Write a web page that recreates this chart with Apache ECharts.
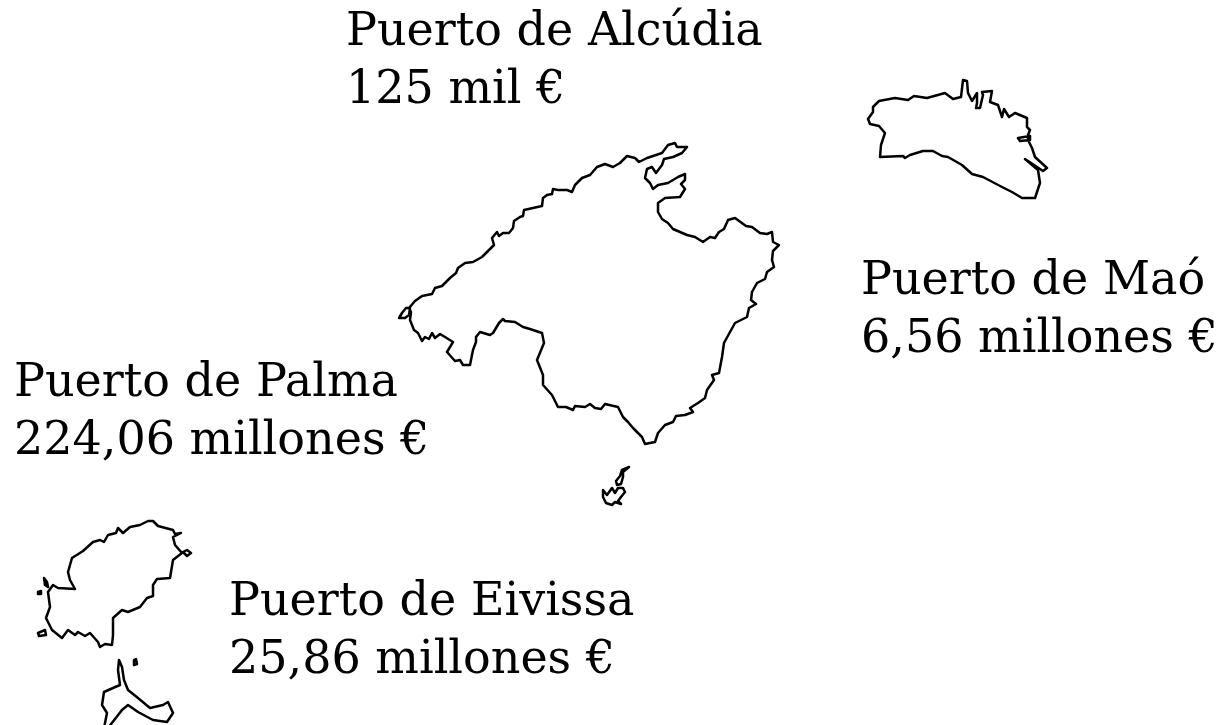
<!DOCTYPE html>
<html>
<head>
<meta charset="utf-8">
<title>Puertos de Baleares</title>
<style>
  html, body { margin: 0; background: #fff; }
  #chart { width: 1225px; height: 725px; }
</style>
<script src="https://cdn.jsdelivr.net/npm/echarts@6/dist/echarts.min.js"></script>
</head>
<body>
<div id="chart"></div>
<script>
// ports
const portNames = ['Puerto de Alcúdia', 'Puerto de Maó', 'Puerto de Palma', 'Puerto de Eivissa']
const portValues = ['125 mil €', '6,56 millones €', '224,06 millones €', '25,86 millones €']
const portCoords = [[346, 62], [861, 311], [14, 413], [229, 632]]

// island outlines, traced in map units
const mallorca = [[409, 308], [415, 301], [422, 296], [432, 294], [435, 288], [442, 286], [450, 278], [456, 273], [458, 268], [465, 263], [473, 262], [482, 257], [490, 249], [494, 245], [492, 238], [497, 232], [499, 236], [503, 233], [509, 233], [513, 228], [514, 221], [520, 217], [523, 216], [524, 210], [533, 208], [542, 206], [543, 198], [547, 195], [552, 194], [553, 189], [558, 190], [567, 190], [572, 192], [575, 185], [582, 178], [590, 175], [597, 167], [605, 164], [613, 167], [620, 163], [627, 156], [635, 158], [639, 162], [647, 158], [662, 153], [668, 145], [675, 143], [677, 147], [687, 147], [682, 153], [673, 157], [664, 159], [662, 165], [656, 173], [652, 167], [647, 169], [645, 178], [650, 183], [653, 189], [658, 185], [668, 183], [678, 177], [685, 174], [685, 180], [681, 184], [685, 189], [680, 197], [665, 198], [658, 203], [658, 212], [662, 219], [668, 223], [673, 229], [687, 235], [695, 237], [703, 242], [710, 237], [715, 238], [719, 232], [724, 229], [728, 220], [735, 218], [746, 226], [752, 227], [760, 233], [767, 234], [772, 232], [773, 242], [779, 245], [773, 251], [772, 260], [774, 267], [767, 272], [765, 279], [757, 283], [752, 292], [751, 300], [756, 304], [749, 308], [747, 317], [735, 323], [730, 332], [724, 343], [722, 357], [719, 373], [712, 375], [714, 380], [707, 390], [705, 398], [698, 403], [690, 408], [693, 412], [685, 415], [676, 416], [673, 422], [665, 425], [658, 433], [655, 442], [645, 444], [642, 437], [633, 428], [628, 422], [623, 417], [618, 407], [605, 404], [601, 409], [595, 408], [590, 404], [585, 407], [575, 406], [573, 410], [566, 407], [558, 407], [552, 395], [543, 385], [543, 375], [537, 360], [544, 343], [542, 333], [530, 329], [523, 327], [515, 322], [505, 321], [503, 319], [499, 323], [493, 333], [490, 335], [480, 332], [476, 337], [476, 342], [473, 350], [470, 365], [463, 365], [460, 360], [455, 361], [447, 352], [453, 342], [445, 337], [440, 334], [435, 338], [432, 333], [429, 339], [425, 337], [422, 341], [418, 333], [414, 330], [410, 320], [411, 312]]
const dragonera = [[406, 308], [410, 308], [409, 315], [405, 318], [399, 318], [402, 313]]
const cabreraNorth = [[629, 467], [622, 470], [620, 476], [616, 481], [617, 485], [621, 484], [623, 477], [623, 472]]
const cabrera = [[603, 490], [607, 495], [612, 488], [615, 493], [618, 488], [623, 488], [625, 492], [621, 497], [618, 501], [621, 504], [615, 502], [612, 505], [606, 503], [603, 497]]
const menorca = [[879, 101], [895, 98], [908, 100], [914, 96], [927, 98], [945, 93], [953, 99], [961, 97], [963, 80], [967, 81], [968, 93], [972, 101], [977, 93], [977, 103], [976, 108], [980, 108], [983, 95], [982, 92], [992, 91], [990, 102], [998, 105], [1002, 117], [1004, 109], [1009, 117], [1015, 113], [1027, 118], [1027, 127], [1030, 130], [1028, 135], [1028, 140], [1032, 148], [1035, 157], [1047, 168], [1043, 171], [1025, 159], [1038, 170], [1040, 183], [1035, 198], [1022, 198], [1012, 192], [1002, 187], [983, 177], [972, 174], [962, 165], [948, 157], [942, 156], [933, 151], [923, 151], [910, 155], [905, 158], [903, 156], [880, 157], [881, 145], [885, 133], [879, 126], [870, 124], [868, 119], [873, 112], [873, 107]]
const menorcaIslet = [[1018, 138], [1030, 136], [1030, 140], [1020, 141]]
const eivissa = [[75, 589], [70, 580], [68, 572], [72, 558], [83, 551], [93, 542], [100, 540], [104, 542], [108, 535], [116, 533], [118, 528], [123, 533], [130, 527], [140, 525], [148, 521], [153, 521], [158, 526], [173, 530], [175, 534], [181, 533], [173, 537], [175, 545], [182, 553], [173, 560], [170, 578], [157, 579], [153, 585], [153, 596], [147, 598], [140, 607], [128, 612], [122, 610], [113, 618], [113, 635], [112, 645], [105, 644], [100, 647], [98, 642], [90, 633], [85, 636], [78, 632], [75, 635], [68, 630], [62, 638], [52, 630], [46, 618], [50, 607], [48, 592], [53, 585], [58, 588]]
const eivissaIslets = [
  [[183, 552], [187, 550], [191, 553], [187, 556]],
  [[44, 578], [47, 582], [48, 587], [45, 585]],
  [[38, 592], [41, 591], [41, 594], [38, 594]],
  [[38, 633], [45, 630], [46, 635], [39, 636]]
]
const formentera = [[119, 660], [122, 667], [124, 680], [128, 690], [138, 698], [150, 708], [163, 705], [168, 702], [173, 713], [167, 722], [153, 720], [138, 712], [128, 705], [122, 710], [108, 728], [104, 728], [107, 713], [102, 705], [104, 692], [113, 688], [120, 685], [118, 670]]
const formenteraIslet = [[134, 660], [136, 659], [137, 664], [134, 665]]

const allIslands = [mallorca, dragonera, cabreraNorth, cabrera, menorca, menorcaIslet, eivissa, ...eivissaIslets, formentera, formenteraIslet]

function closeRing(ring) {
  return [[...ring, ring[0]]]
}

echarts.registerMap('baleares', {
  type: 'FeatureCollection',
  features: [{
    type: 'Feature',
    properties: { name: 'Baleares' },
    geometry: { type: 'MultiPolygon', coordinates: allIslands.map(closeRing) }
  }]
})

const chart = echarts.init(document.getElementById('chart'))
chart.setOption({
  backgroundColor: '#fff',
  animation: false,
  geo: {
    map: 'baleares',
    silent: true,
    roam: false,
    left: 0,
    top: 0,
    right: 0,
    bottom: 0,
    boundingCoords: [[0, 0], [1225, 725]],
    // map units already run top-down, no need for a real projection
    projection: {
      project: (p) => p,
      unproject: (p) => p
    },
    label: { show: false },
    itemStyle: {
      areaColor: 'transparent',
      borderColor: '#000',
      borderWidth: 2.5,
      borderJoin: 'round'
    }
  },
  series: [{
    type: 'scatter',
    coordinateSystem: 'geo',
    symbolSize: 0,
    silent: true,
    data: portNames.map((name, i) => ({ name, value: portCoords[i] })),
    label: {
      show: true,
      position: 'right',
      distance: 0,
      align: 'left',
      color: '#000',
      opacity: 1, // scatter label otherwise picks up the series opacity and goes grey
      fontFamily: 'DejaVu Serif',
      fontSize: 46,
      lineHeight: 58,
      formatter: (params) => params.name + '\n' + portValues[params.dataIndex]
    }
  }]
})
</script>
</body>
</html>
